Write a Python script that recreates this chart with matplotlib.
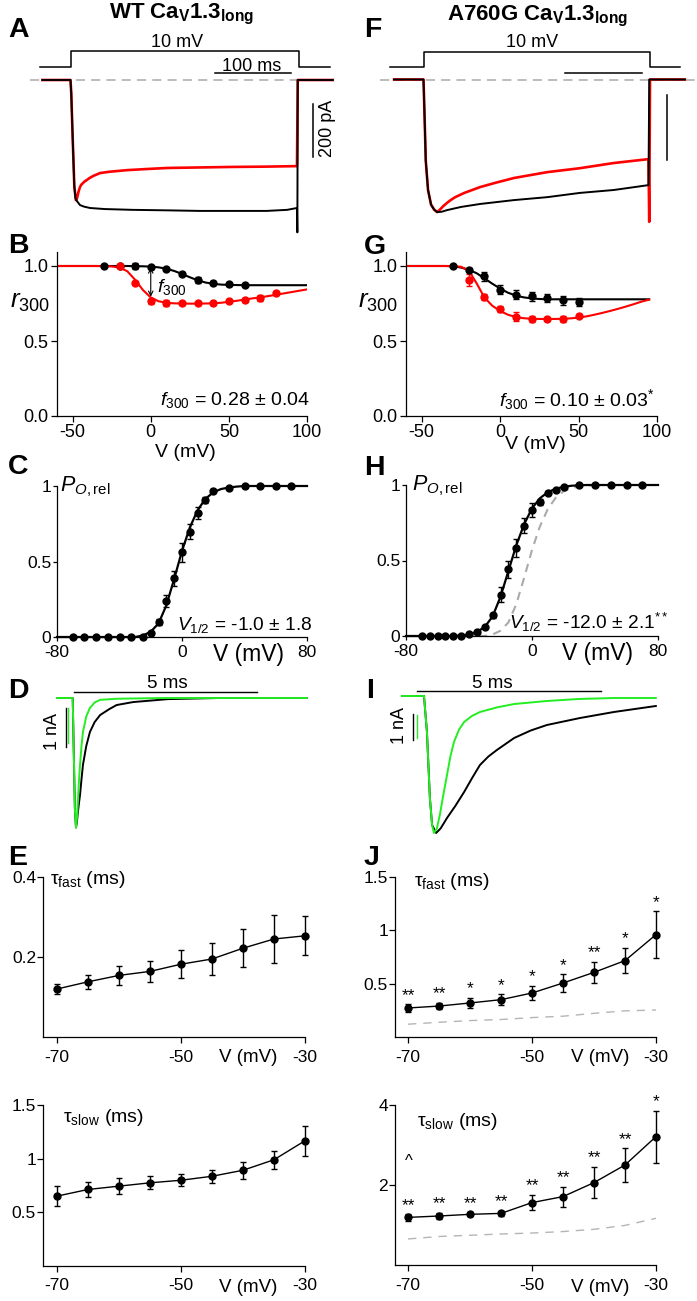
import matplotlib
matplotlib.use("Agg")
import matplotlib.pyplot as plt

W, H = 697, 1301
plt.rcParams.update({
    "font.family": ["Liberation Sans", "DejaVu Sans"],
    "mathtext.fontset": "custom",
    "mathtext.rm": "Liberation Sans",
    "mathtext.it": "Liberation Sans:italic",
    "mathtext.bf": "Liberation Sans:bold",
    "mathtext.sf": "Liberation Sans",
    "axes.unicode_minus": False,
    "axes.linewidth": 0.9,
})

RED = "#ff0000"
GREEN = "#22ee22"
GRAY = "#aaaaaa"

# ---------------- data ----------------
# Panel A / F : voltage protocol (ms, mV)
V_HOLD, V_TEST = -80, 10
A_prot_t = [-40, 0, 0, 300, 300, 342]
F_prot_t = [-44, 0, 0, 300, 300, 340]
prot_v = [V_HOLD, V_HOLD, V_TEST, V_TEST, V_HOLD, V_HOLD]

# Panel A currents (ms, pA)
A_black_t = [-37, 0, 1, 3, 5, 6.5, 8, 12.5, 18, 25.7, 45, 82, 130, 170, 215, 258, 285, 298, 298.5, 299, 345]
A_black_i = [0, 0, -50, -230, -400, -445, -455, -472, -478, -483, -487, -490, -492, -494, -494, -494, -490, -483, -575, 0, 0]
A_red_t = [-37, 0, 1, 3, 5, 7, 8, 9, 10.5, 12.5, 14, 16, 18.5, 21.7, 25, 30, 39, 52, 75, 100, 127,
           170, 214, 255, 298, 299, 345]
A_red_i = [0, 0, -50, -230, -400, -453, -452, -441, -422, -404, -396, -390, -383, -377, -370, -362,
           -351, -346, -340, -336, -332, -330, -328, -327, -325, 0, 0]

# Panel F currents (ms, pA)
F_black_t = [-39, 0, 1.5, 3, 6, 10, 14, 18, 24, 31, 50, 75, 120, 164, 207, 252, 298, 299, 346]
F_black_i = [0, 0, -120, -250, -340, -385, -400, -408, -407, -402, -392, -383, -371, -362, -349, -340, -325, 0, 0]
F_red_t = [-39, 0, 1.5, 3, 6, 10, 14, 18, 22, 26, 31, 36, 42, 54, 75, 95, 120, 164, 207, 252, 298, 299, 300, 346]
F_red_i = [0, 0, -120, -250, -340, -385, -400, -408, -400, -390, -380, -371, -362, -349, -331, -318,
           -303, -285, -273, -257, -245, -438, 0, 0]

# Panel B (WT r300)
fitV_B = list(range(-60, 101, 5))
B_fit_black = [1.0] * 10 + [0.999, 0.998, 0.996, 0.991, 0.982, 0.967, 0.947, 0.925, 0.905, 0.89,
                            0.881, 0.876, 0.874, 0.873] + [0.872] * 9
B_fit_red = [1.0] * 6 + [0.999, 0.997, 0.99, 0.965, 0.908, 0.84, 0.79, 0.765, 0.755, 0.751, 0.75,
                         0.749, 0.749, 0.75, 0.751, 0.755, 0.761, 0.768, 0.776, 0.784, 0.791, 0.799,
                         0.808, 0.817, 0.826, 0.835, 0.844]
B_V_black = [-30, -20, -10, 0, 10, 20, 30, 40, 50, 60]
B_black = [1.0, 1.0, 1.0, 0.993, 0.982, 0.949, 0.905, 0.885, 0.88, 0.872]
B_black_err = [0.005, 0.005, 0.02, 0.01, 0.01, 0.012, 0.02, 0.012, 0.01, 0.008]
B_V_red = [-20, -10, 0, 10, 20, 30, 40, 50, 60, 70, 80]
B_red = [1.0, 0.887, 0.764, 0.752, 0.751, 0.751, 0.751, 0.77, 0.774, 0.788, 0.82]
B_red_err = [0.008, 0.012, 0.015, 0.02, 0.01, 0.01, 0.012, 0.012, 0.015, 0.02, 0.015]

# Panel G (A760G r300)
fitV_G = list(range(-60, 96, 5))
G_fit_black = [1.0] * 6 + [0.998, 0.99, 0.975, 0.952, 0.918, 0.882, 0.85, 0.822, 0.803, 0.791,
                           0.784, 0.78] + [0.778] * 14
G_fit_red = [1.0] * 7 + [0.995, 0.97, 0.885, 0.79, 0.735, 0.7, 0.675, 0.66, 0.652, 0.648, 0.647,
                         0.647, 0.647, 0.648, 0.651, 0.656, 0.664, 0.675, 0.687, 0.7, 0.714, 0.729,
                         0.745, 0.762, 0.776]
G_V_black = [-30, -20, -10, 0, 10, 20, 30, 40, 50]
G_black = [1.0, 0.976, 0.931, 0.842, 0.809, 0.798, 0.787, 0.771, 0.76]
G_black_err = [0.005, 0.01, 0.03, 0.03, 0.03, 0.03, 0.025, 0.03, 0.025]
G_V_red = [-20, -10, 0, 10, 20, 30, 40, 50]
G_red = [0.904, 0.793, 0.711, 0.66, 0.644, 0.647, 0.647, 0.669]
G_red_err = [0.04, 0.02, 0.02, 0.03, 0.02, 0.015, 0.02, 0.01]

# Panel C (WT activation)
fitV_C = list(range(-80, 81, 5))
C_fit = [0.0] * 11 + [0.01, 0.035, 0.09, 0.21, 0.385, 0.57, 0.725, 0.84, 0.915, 0.958, 0.98, 0.99,
                      0.996] + [1.0] * 9
C_V = [-70, -62.5, -55, -47.5, -40, -32.5, -25, -20, -15, -10, -5, 0, 5, 10, 15, 20, 30, 40, 50, 60, 70]
C_P = [0] * 7 + [0.026, 0.097, 0.236, 0.39, 0.56, 0.698, 0.82, 0.907, 0.967, 0.989, 1, 1, 1, 1]
C_err = [0] * 7 + [0.01, 0.02, 0.04, 0.05, 0.06, 0.05, 0.04, 0.02, 0.01, 0, 0, 0, 0, 0]

# Panel H (A760G activation)
H_fit = [0.0] * 7 + [0.003, 0.01, 0.027, 0.06, 0.13, 0.26, 0.43, 0.6, 0.74, 0.845, 0.912, 0.952,
                     0.975, 0.988, 0.995, 0.998] + [1.0] * 10
H_V = list(range(-70, 21, 5)) + [30, 40, 50, 60, 70]
H_P = [0] * 6 + [0.015, 0.027, 0.06, 0.137, 0.274, 0.442, 0.58, 0.73, 0.834, 0.89, 0.95, 0.967,
                 0.989, 1, 1, 1, 1, 1]
H_err = [0] * 9 + [0.015, 0.05, 0.055, 0.06, 0.05, 0.045, 0.02, 0.01, 0, 0, 0, 0, 0, 0, 0]

# Panel D tail currents (ms, nA)
D_green_t = [-0.43, 0, 0.03, 0.06, 0.09, 0.12, 0.145, 0.17, 0.2, 0.24, 0.28, 0.37, 0.47, 0.6, 0.75, 1.2, 2.5, 6.4]
D_green_i = [0, 0, -1.5, -3.0, -3.5, -3.2, -2.76, -2.25, -1.81, -1.3, -0.92, -0.5, -0.27, -0.12,
             -0.05, -0.02, 0, 0]
D_black_t = [-0.43, 0, 0.03, 0.06, 0.09, 0.115, 0.14, 0.17, 0.2, 0.24, 0.28, 0.37, 0.47, 0.6, 0.75,
             1.0, 1.2, 1.65, 2.6, 4.0, 6.4]
D_black_i = [0, 0, -1.5, -3.0, -3.5, -3.35, -3.1, -2.85, -2.62, -2.2, -1.81, -1.3, -0.92, -0.65,
             -0.46, -0.3, -0.19, -0.11, -0.03, 0, 0]

# Panel I tail currents (ms, nA)
I_green_t = [-0.6, 0, 0.08, 0.16, 0.22, 0.27, 0.35, 0.43, 0.52, 0.625, 0.72, 0.815, 0.95, 1.09, 1.3,
             1.52, 2.0, 2.45, 3.34, 4.2, 5.16, 6.3]
I_green_i = [0, 0, -1.44, -4.08, -5.16, -5.48, -5.3, -4.76, -4.0, -3.16, -2.4, -1.84, -1.35, -1.04,
             -0.8, -0.64, -0.45, -0.32, -0.2, -0.12, -0.08, -0.08]
I_black_t = [-0.6, 0, 0.08, 0.16, 0.22, 0.33, 0.45, 0.625, 0.85, 1.09, 1.3, 1.52, 1.75, 1.98, 2.45,
             2.9, 3.34, 4.24, 5.16, 6.3]
I_black_i = [0, 0, -1.44, -4.08, -5.16, -5.48, -5.3, -4.88, -4.4, -3.84, -3.3, -2.76, -2.42, -2.16,
             -1.68, -1.38, -1.16, -0.88, -0.64, -0.4]

# Panels E / J deactivation time constants
tau_V = [-70, -65, -60, -55, -50, -45, -40, -35, -30]
WT_fast = [0.12, 0.138, 0.154, 0.164, 0.182, 0.195, 0.222, 0.245, 0.253]
WT_fast_err = [0.013, 0.017, 0.023, 0.026, 0.035, 0.04, 0.047, 0.06, 0.049]
WT_slow = [0.651, 0.713, 0.744, 0.775, 0.799, 0.836, 0.892, 0.99, 1.167]
WT_slow_err = [0.095, 0.074, 0.074, 0.062, 0.056, 0.059, 0.077, 0.086, 0.139]
MUT_fast = [0.272, 0.29, 0.319, 0.35, 0.4125, 0.506, 0.606, 0.716, 0.96]
MUT_fast_err = [0.035, 0.03, 0.047, 0.05, 0.066, 0.083, 0.1, 0.12, 0.22]
MUT_slow = [1.19, 1.225, 1.267, 1.29, 1.56, 1.71, 2.06, 2.5, 3.21]
MUT_slow_err = [0.08, 0.08, 0.05, 0.07, 0.19, 0.25, 0.39, 0.42, 0.65]
MUT_fast_sig = ["**", "**", "*", "*", "*", "*", "**", "*", "*"]
MUT_slow_sig = ["**"] * 8 + ["*"]

# ---------------- helpers ----------------
fig = plt.figure(figsize=(W / 100, H / 100), dpi=100)


def make_ax(box, xmap, ymap, off=False):
    l, t, r, b = box
    ax = fig.add_axes([l / W, 1 - b / H, (r - l) / W, (b - t) / H])
    (xa, pa), (xb, pb) = xmap
    s = (xb - xa) / (pb - pa)
    ax.set_xlim(xa + (l - pa) * s, xa + (r - pa) * s)
    (ya, qa), (yb, qb) = ymap
    s = (yb - ya) / (qb - qa)
    ax.set_ylim(ya + (b - qa) * s, ya + (t - qa) * s)
    ax.patch.set_visible(False)
    if off:
        ax.set_axis_off()
    else:
        for sp in ("top", "right"):
            ax.spines[sp].set_visible(False)
    return ax


def ft(x, y, s, **kw):
    return fig.text(x / W, 1 - y / H, s, **kw)


def ebar(ax, x, y, e, color, ms=5):
    ax.errorbar(x, y, yerr=e, fmt="o", color=color, ms=ms, capsize=2.2,
                elinewidth=1.0, capthick=1.0, clip_on=False, zorder=3)


# ---------------- panel letters & titles ----------------
for letter, x, y in [("A", 8, 37), ("F", 364, 37), ("B", 8, 253), ("G", 364, 254),
                     ("C", 8, 474), ("H", 364, 475), ("D", 8, 698), ("I", 366, 698),
                     ("E", 8, 865), ("J", 364, 865)]:
    ft(x, y, letter, fontsize=20.5, fontweight="bold", va="baseline", ha="left")

ft(182, 18.5, r"WT Ca$_{\mathbf{V}}$1.3$_{\mathbf{long}}$", fontsize=16,
   fontweight="bold", ha="center", va="baseline")
ft(538, 20, r"A760G Ca$_{\mathbf{V}}$1.3$_{\mathbf{long}}$", fontsize=16,
   fontweight="bold", ha="center", va="baseline")

# ---------------- panel A ----------------
xmapA = ((0, 70.5), (100, 146.5))
axAv = make_ax((30, 40, 335, 80), xmapA, ((V_HOLD, 67), (V_TEST, 51)), off=True)
axAv.plot(A_prot_t, prot_v, color="k", lw=1.1)
axA = make_ax((30, 40, 335, 240), xmapA, ((0, 80), (-200, 133)), off=True)
axA.axhline(0, color=GRAY, lw=1.1, dashes=(6, 4), zorder=0)
axA.plot(A_red_t, A_red_i, color=RED, lw=1.9)
axA.plot(A_black_t, A_black_i, color="k", lw=1.4)
axA.plot([190, 290], [26, 26], color="k", lw=1.1)
axA.plot([319, 319], [-90, -290], color="k", lw=1.1)
ft(177, 47, "10 mV", fontsize=13, ha="center", va="baseline")
ft(252, 71, "100 ms", fontsize=13, ha="center", va="baseline")
ft(328, 128, "200 pA", fontsize=13, ha="center", va="center", rotation=90)

# ---------------- panel F ----------------
xmapF = ((0, 423.5), (100, 499))
axFv = make_ax((380, 40, 697, 80), xmapF, ((V_HOLD, 67), (V_TEST, 52)), off=True)
axFv.plot(F_prot_t, prot_v, color="k", lw=1.1)
axF = make_ax((380, 40, 697, 240), xmapF, ((0, 79.5), (-200, 144.5)), off=True)
axF.axhline(0, color=GRAY, lw=1.1, dashes=(6, 4), zorder=0)
axF.plot(F_red_t, F_red_i, color=RED, lw=1.9)
axF.plot(F_black_t, F_black_i, color="k", lw=1.4)
axF.plot([187, 290], [20, 20], color="k", lw=1.1)
axF.plot([322, 322], [-48, -248], color="k", lw=1.1)
ft(532, 47, "10 mV", fontsize=13, ha="center", va="baseline")


# ---------------- panels B / G ----------------
def r300_axes(box, xmap):
    ax = make_ax(box, xmap, ((0, 416), (1, 266)))
    ax.set_xticks([-50, 0, 50, 100])
    ax.set_yticks([0, 0.5, 1.0])
    ax.set_yticklabels(["0.0", "0.5", "1.0"])
    ax.tick_params(labelsize=13, length=4, width=0.9, pad=2)
    return ax


axB = r300_axes((57, 252, 307, 416), ((-60, 57), (100, 307)))
axB.plot(fitV_B, B_fit_black, color="k", lw=1.5)
axB.plot(fitV_B, B_fit_red, color=RED, lw=1.5)
ebar(axB, B_V_black, B_black, B_black_err, "k")
ebar(axB, B_V_red, B_red, B_red_err, RED)
axB.annotate("", xy=(0, 0.795), xytext=(0, 0.99),
             arrowprops=dict(arrowstyle="<->", lw=0.8, color="k", shrinkA=0, shrinkB=0,
                             mutation_scale=8))
axB.text(3.8, 0.86, r"$f_{300}$", fontsize=14, ha="left", va="center")
ft(310, 400, r"$f_{300}$ = 0.28 ± 0.04", fontsize=14, ha="right", va="center")
ft(185, 453, "V (mV)", fontsize=14, ha="center", va="center")
ft(30, 302, r"$r_{300}$", fontsize=18.5, ha="center", va="center")

axG = r300_axes((406, 252, 657, 416), ((-60, 406), (100, 657)))
axG.plot(fitV_G, G_fit_black, color="k", lw=1.5)
axG.plot(fitV_G, G_fit_red, color=RED, lw=1.5)
ebar(axG, G_V_black, G_black, G_black_err, "k")
ebar(axG, G_V_red, G_red, G_red_err, RED)
ft(655, 400, r"$f_{300}$ = 0.10 ± 0.03$^{*}$", fontsize=14, ha="right", va="center")
ft(535, 444, "V (mV)", fontsize=14, ha="center", va="center")
ft(378, 302, r"$r_{300}$", fontsize=18.5, ha="center", va="center")


# ---------------- panels C / H ----------------
def po_axes(box, xmap, ymap):
    ax = make_ax(box, xmap, ymap)
    ax.set_xticks([-80, 0, 80])
    ax.set_yticks([0, 0.5, 1])
    ax.set_yticklabels(["0", "0.5", "1"])
    ax.tick_params(labelsize=12.5, length=3, width=0.9, pad=1)
    ax.tick_params(axis="x", pad=3)
    return ax


axC = po_axes((57, 486, 307, 637), ((-80, 57), (80, 307)), ((0, 637), (1, 486)))
axC.plot(fitV_C, C_fit, color="k", lw=1.6, clip_on=False)
ebar(axC, C_V, C_P, C_err, "k")
ft(60, 487, r"$P_{O\mathrm{,rel}}$", fontsize=15.5, ha="left", va="center")
ft(313, 625, r"$V_{1/2}$ = -1.0 ± 1.8", fontsize=13.8, ha="right", va="center")
ft(248, 655, "V (mV)", fontsize=16.5, ha="center", va="center")

axH = po_axes((406, 485, 658, 636), ((-80, 406), (80, 658)), ((0, 636), (1, 485)))
axH.plot(fitV_C, C_fit, color=GRAY, lw=1.5, dashes=(4, 3), zorder=1)
axH.plot(fitV_C, H_fit, color="k", lw=1.6, clip_on=False, zorder=2)
ebar(axH, H_V, H_P, H_err, "k")
ft(412, 486, r"$P_{O\mathrm{,rel}}$", fontsize=15.5, ha="left", va="center")
ft(669, 622, r"$V_{1/2}$ = -12.0 ± 2.1$^{**}$", fontsize=13.8, ha="right", va="center")
ft(598, 653, "V (mV)", fontsize=16.5, ha="center", va="center")

# ---------------- panel D ----------------
axD = make_ax((40, 672, 330, 845), ((0, 72.7), (5, 255.7)), ((0, 698), (-1, 735)), off=True)
axD.plot(D_black_t, D_black_i, color="k", lw=1.4)
axD.plot(D_green_t, D_green_i, color=GREEN, lw=1.4)
axD.plot([0.04, 5.04], [0.16, 0.16], color="k", lw=1.0)
axD.plot([-0.18, -0.18], [-0.27, -1.32], color="k", lw=1.0)
axD.plot([-0.13, -0.13], [-0.27, -1.22], color=GREEN, lw=1.0)
ft(167, 688, "5 ms", fontsize=13.5, ha="center", va="baseline")
ft(53, 731, "1 nA", fontsize=13, ha="center", va="center", rotation=90)

# ---------------- panel I ----------------
axI = make_ax((390, 672, 697, 845), ((0, 424), (5, 608)), ((0, 696), (-1, 721)), off=True)
axI.plot(I_black_t, I_black_i, color="k", lw=1.4)
axI.plot(I_green_t, I_green_i, color=GREEN, lw=1.4)
axI.plot([-0.19, 4.81], [0.2, 0.2], color="k", lw=1.0)
axI.plot([-0.3, -0.3], [-0.72, -1.76], color="k", lw=1.0)
axI.plot([-0.2, -0.2], [-0.76, -1.68], color=GREEN, lw=1.0)
ft(492, 688, "5 ms", fontsize=13.5, ha="center", va="baseline")
ft(400, 725, "1 nA", fontsize=13, ha="center", va="center", rotation=90)


# ---------------- panels E / J ----------------
def tau_axes(box, xmap, ymap, yticks, ylabels):
    ax = make_ax(box, xmap, ymap)
    ax.set_xticks([-70, -50, -30])
    ax.set_yticks(yticks)
    ax.set_yticklabels(ylabels)
    ax.tick_params(labelsize=12.5, length=4, width=0.9)
    ax.tick_params(axis="x", pad=5)
    ax.tick_params(axis="y", pad=1)
    return ax


xmapE = ((-70, 57), (-30, 305))
xmapJ = ((-70, 408), (-30, 656))

axE1 = tau_axes((43, 877, 305, 1037), xmapE, ((0, 1037), (0.4, 877)), [0.2, 0.4], ["0.2", "0.4"])
axE1.plot(tau_V, WT_fast, color="k", lw=1.0)
ebar(axE1, tau_V, WT_fast, WT_fast_err, "k")
ft(50, 880, r"τ$_{\mathrm{fast}}$ (ms)", fontsize=14, ha="left", va="center")
ft(248, 1058, "V (mV)", fontsize=13.5, ha="center", va="center")

axE2 = tau_axes((43, 1105, 305, 1266), xmapE, ((0, 1266), (1.5, 1105)), [0.5, 1, 1.5], ["0.5", "1", "1.5"])
axE2.plot(tau_V, WT_slow, color="k", lw=1.0)
ebar(axE2, tau_V, WT_slow, WT_slow_err, "k")
ft(63, 1118, r"τ$_{\mathrm{slow}}$ (ms)", fontsize=14, ha="left", va="center")
ft(248, 1288, "V (mV)", fontsize=13.5, ha="center", va="center")

axJ1 = tau_axes((395, 877, 656, 1037), xmapJ, ((0, 1037), (1.5, 877)), [0.5, 1, 1.5], ["0.5", "1", "1.5"])
axJ1.plot(tau_V, WT_fast, color="#b5b5b5", lw=1.0, dashes=(6, 5))
axJ1.plot(tau_V, MUT_fast, color="k", lw=1.0)
ebar(axJ1, tau_V, MUT_fast, MUT_fast_err, "k")
for v, m, e, s in zip(tau_V, MUT_fast, MUT_fast_err, MUT_fast_sig):
    axJ1.annotate(s, (v, m + e), xytext=(0, 1), textcoords="offset points",
                  ha="center", va="bottom", fontsize=12.5, annotation_clip=False)
ft(414, 882, r"τ$_{\mathrm{fast}}$ (ms)", fontsize=14, ha="left", va="center")
ft(600, 1058, "V (mV)", fontsize=13.5, ha="center", va="center")

axJ2 = tau_axes((395, 1105, 656, 1265), xmapJ, ((0, 1265), (4, 1105)), [2, 4], ["2", "4"])
axJ2.plot(tau_V, WT_slow, color="#b5b5b5", lw=1.0, dashes=(6, 5))
axJ2.plot(tau_V, MUT_slow, color="k", lw=1.0)
ebar(axJ2, tau_V, MUT_slow, MUT_slow_err, "k")
for v, m, e, s in zip(tau_V, MUT_slow, MUT_slow_err, MUT_slow_sig):
    axJ2.annotate(s, (v, m + e), xytext=(0, 1), textcoords="offset points",
                  ha="center", va="bottom", fontsize=12.5, annotation_clip=False)
ft(417, 1122, r"τ$_{\mathrm{slow}}$ (ms)", fontsize=14, ha="left", va="center")
ft(600, 1288, "V (mV)", fontsize=13.5, ha="center", va="center")
ft(409, 1161, "^", fontsize=12, ha="center", va="center")

fig.savefig("out.png", dpi=100)
